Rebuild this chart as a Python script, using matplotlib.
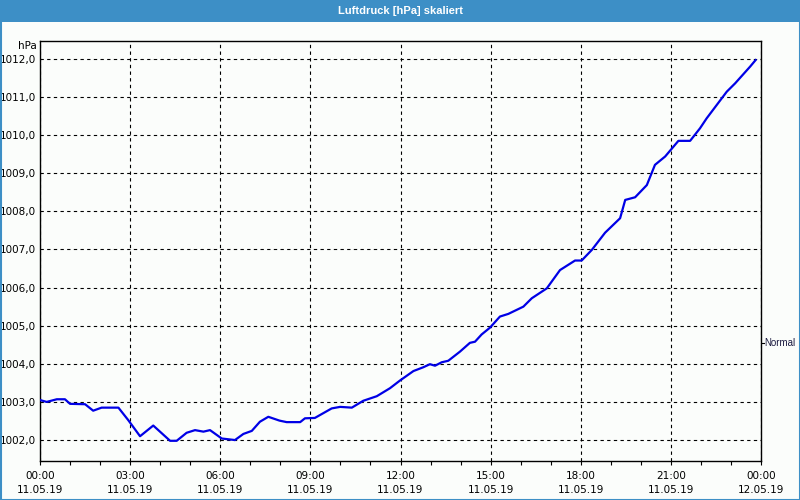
import matplotlib
matplotlib.use("Agg")
import matplotlib.pyplot as plt
from matplotlib.patches import Rectangle

# ── data (hours since 11.05.19 00:00, pressure in hPa) ──────────────────────
hours = [0.0, 0.22, 0.56, 0.83, 1.0, 1.5, 1.77, 2.05, 2.61, 2.72, 2.94, 3.33,
         3.77, 4.33, 4.55, 4.88, 5.16, 5.44, 5.66, 6.05, 6.49, 6.77, 7.05,
         7.32, 7.60, 7.97, 8.21, 8.66, 8.82, 9.15, 9.71, 9.99, 10.38, 10.76,
         11.21, 11.65, 11.98, 12.43, 12.76, 12.98, 13.15, 13.37, 13.59, 13.98,
         14.31, 14.48, 14.70, 14.98, 15.31, 15.59, 16.09, 16.37, 16.87, 17.31,
         17.81, 18.03, 18.37, 18.81, 19.31, 19.48, 19.81, 20.20, 20.47, 20.81,
         21.25, 21.64, 21.97, 22.19, 22.86, 23.14, 23.64, 23.82]
pressure = [1003.05, 1003.0, 1003.07, 1003.07, 1002.95, 1002.94, 1002.77,
            1002.85, 1002.85, 1002.74, 1002.52, 1002.1, 1002.38, 1001.98,
            1001.98, 1002.19, 1002.26, 1002.22, 1002.26, 1002.04, 1002.0,
            1002.16, 1002.24, 1002.48, 1002.61, 1002.51, 1002.47, 1002.47,
            1002.57, 1002.58, 1002.83, 1002.87, 1002.85, 1003.03, 1003.15,
            1003.36, 1003.56, 1003.81, 1003.91, 1003.99, 1003.95, 1004.04,
            1004.08, 1004.32, 1004.55, 1004.58, 1004.77, 1004.95, 1005.24,
            1005.31, 1005.5, 1005.72, 1005.98, 1006.46, 1006.71, 1006.71,
            1006.99, 1007.44, 1007.82, 1008.3, 1008.37, 1008.69, 1009.22,
            1009.44, 1009.85, 1009.85, 1010.18, 1010.44, 1011.14, 1011.36,
            1011.8, 1011.97]

tick_hours = [0, 3, 6, 9, 12, 15, 18, 21, 24]
tick_labels = ["00:00\n11.05.19", "03:00\n11.05.19", "06:00\n11.05.19",
               "09:00\n11.05.19", "12:00\n11.05.19", "15:00\n11.05.19",
               "18:00\n11.05.19", "21:00\n11.05.19", "00:00\n12.05.19"]
y_ticks = [1002, 1003, 1004, 1005, 1006, 1007, 1008, 1009, 1010, 1011, 1012]

TITLE_BG = "#3d8fc6"
BG = "#fbfdfb"

fig = plt.figure(figsize=(8, 5), dpi=100, facecolor=BG)

# title bar + window border
fig.patches.append(Rectangle((0, 1 - 22 / 500), 1, 22 / 500, transform=fig.transFigure,
                             facecolor=TITLE_BG, edgecolor="none", zorder=0))
fig.patches.append(Rectangle((0.5 / 800, 0.5 / 500), 799 / 800, 499 / 500,
                             transform=fig.transFigure, fill=False,
                             edgecolor=TITLE_BG, lw=1.5, zorder=0))
fig.text(0.5, 1 - 11 / 500, "Luftdruck [hPa] skaliert", ha="center", va="center",
         color="white", fontsize=8, fontweight="bold", family="Liberation Sans")

ax = fig.add_axes([40 / 800, 1 - 461 / 500, 721 / 800, 420 / 500])
ax.set_facecolor(BG)
ax.plot(hours, pressure, color="#0000e6", lw=1.6, solid_joinstyle="round", zorder=3)

ax.set_xlim(0, 24)
ax.set_ylim(1001.45, 1012.47)
ax.set_xticks(tick_hours)
ax.set_xticklabels(tick_labels, fontsize=7.5, linespacing=1.5)
ax.set_xticks(range(25), minor=True)
ax.set_yticks(y_ticks)
ax.set_yticklabels([f"{v},0" for v in y_ticks], fontsize=7.5)

ax.tick_params(axis="x", which="both", direction="out", length=3, width=0.8, pad=4)
ax.tick_params(axis="y", length=0, pad=3)
ax.grid(True, which="major", color="black", lw=0.8, ls=(0, (3, 3)))
for sp in ax.spines.values():
    sp.set_edgecolor("black")
    sp.set_linewidth(1.0)

fig.text(27 / 800, 1 - 46 / 500, "hPa", ha="center", va="center", fontsize=7.5)

# series name on the right, at the level of the last value marker
norm_y = (461 - 343) / 420
fig.text(764 / 800, 1 - 343 / 500, "Normal", ha="left", va="center", fontsize=7,
         color="#1a1a40", family="Liberation Sans")
ax.plot([1.0, 1.004], [norm_y, norm_y], transform=ax.transAxes, color="black",
        lw=0.8, clip_on=False)

fig.savefig("out.png", dpi=100, facecolor=BG)
